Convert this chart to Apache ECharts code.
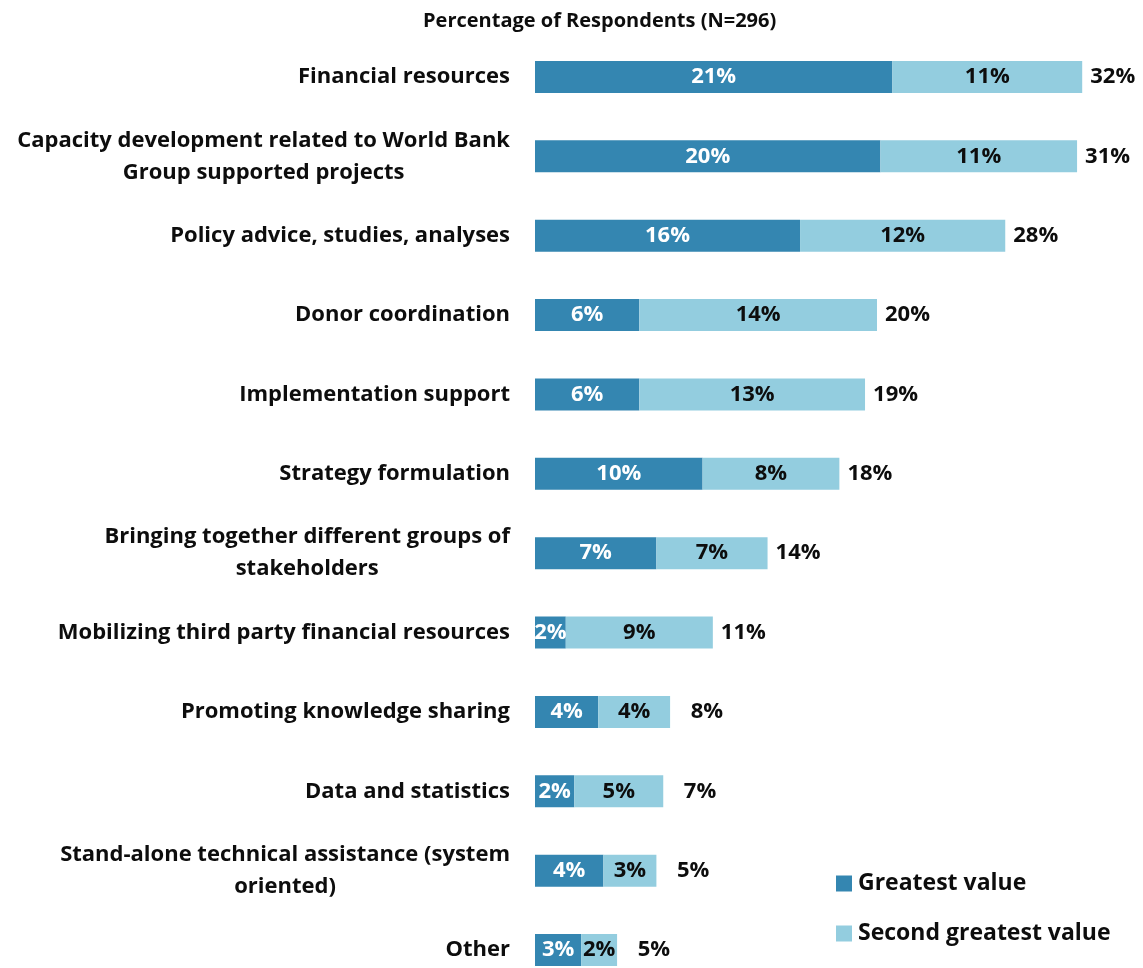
<!DOCTYPE html>
<html>
<head>
<meta charset="utf-8">
<script src="https://cdn.jsdelivr.net/npm/echarts@6/dist/echarts.min.js"></script>
<style>
  html, body { margin: 0; padding: 0; background: #fff; }
  #chart { width: 1143px; height: 968px; }
</style>
</head>
<body>
<div id="chart"></div>
<script>
// categories, top to bottom
const categories = [
  'Financial resources',
  'Capacity development related to World Bank\nGroup supported projects',
  'Policy advice, studies, analyses',
  'Donor coordination',
  'Implementation support',
  'Strategy formulation',
  'Bringing together different groups of\nstakeholders',
  'Mobilizing third party financial resources',
  'Promoting knowledge sharing',
  'Data and statistics',
  'Stand-alone technical assistance (system\noriented)',
  'Other'
];

// bar lengths (percent)
const greatest = [20.9, 20.2, 15.5, 6.1, 6.1, 9.8, 7.1, 1.8, 3.7, 2.3, 4.0, 2.7];
const second   = [11.1, 11.5, 12.0, 13.9, 13.2, 8.0, 6.5, 8.6, 4.2, 5.2, 3.1, 2.1];

// printed labels
const greatestLabels = ['21%', '20%', '16%', '6%', '6%', '10%', '7%', '2%', '4%', '2%', '4%', '3%'];
const secondLabels   = ['11%', '11%', '12%', '14%', '13%', '8%', '7%', '9%', '4%', '5%', '3%', '2%'];
const totalLabels    = ['32%', '31%', '28%', '20%', '19%', '18%', '14%', '11%', '8%', '7%', '5%', '5%'];

const DARK = '#3486b1';
const LIGHT = '#93cddf';
const FONT = 'Open Sans';
const INK = '#0d0d0d';

const chart = echarts.init(document.getElementById('chart'));

const labelFont = { fontFamily: FONT, fontSize: 22, fontWeight: 'bold' };

const option = {
  animation: false,
  title: {
    text: 'Percentage of Respondents (N=296)',
    left: 418,
    top: 6,
    textStyle: { fontFamily: FONT, fontSize: 20, fontWeight: 'bold', color: INK }
  },
  legend: {
    orient: 'vertical',
    left: 831,
    top: 867,
    itemWidth: 16,
    itemHeight: 16,
    itemGap: 27,
    icon: 'rect',
    data: ['Greatest value', 'Second greatest value'],
    textStyle: { fontFamily: FONT, fontSize: 23, fontWeight: 'bold', color: INK, padding: [0, 0, 0, 1] }
  },
  grid: { left: 535, top: 77, width: 598.5, height: 873 },
  xAxis: {
    type: 'value',
    min: 0,
    max: 35,
    show: false
  },
  yAxis: {
    type: 'category',
    inverse: true,
    boundaryGap: false,
    data: categories,
    axisLine: { show: false },
    axisTick: { show: false },
    splitLine: { show: false },
    axisLabel: {
      margin: 25,
      align: 'right',
      formatter: v => v.split('\n').map(s => '{c|' + s + '}').join('\n'),
      rich: {
        c: {
          align: 'center',
          fontFamily: FONT,
          fontSize: 22,
          fontWeight: 'bold',
          color: INK,
          lineHeight: 32
        }
      }
    }
  },
  series: [
    {
      name: 'Greatest value',
      type: 'bar',
      stack: 'all',
      barWidth: 32,
      clip: false,
      itemStyle: { color: DARK },
      data: greatest,
      label: Object.assign({
        show: true,
        position: 'inside',
        color: '#fff',
        formatter: p => greatestLabels[p.dataIndex]
      }, labelFont)
    },
    {
      name: 'Second greatest value',
      type: 'bar',
      stack: 'all',
      barWidth: 32,
      clip: false,
      itemStyle: { color: LIGHT },
      data: second,
      label: Object.assign({
        show: true,
        position: 'inside',
        color: INK,
        formatter: p => secondLabels[p.dataIndex]
      }, labelFont)
    },
    {
      // totals, right-aligned in a fixed slot after each bar
      name: 'Total',
      type: 'scatter',
      symbolSize: 0,
      clip: false,
      silent: true,
      itemStyle: { opacity: 1 },
      data: greatest.map((g, i) => [g + second[i], i]),
      label: Object.assign({
        show: true,
        position: 'right',
        distance: 53,
        align: 'right',
        color: INK,
        formatter: p => totalLabels[p.dataIndex]
      }, labelFont)
    }
  ]
};

chart.setOption(option);
</script>
</body>
</html>
